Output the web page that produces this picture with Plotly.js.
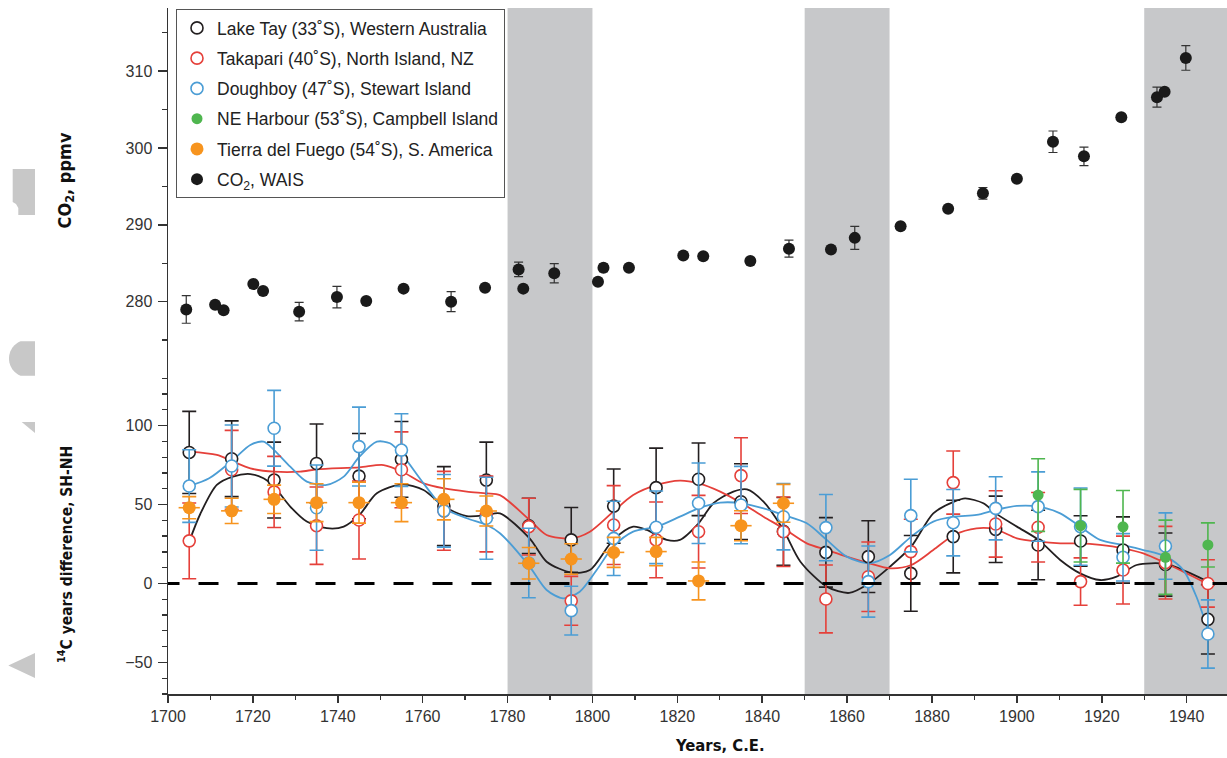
<!DOCTYPE html>
<html>
<head>
<meta charset="utf-8">
<script src="https://cdn.plot.ly/plotly-3.0.1.min.js"></script>
<style>html,body{margin:0;padding:0;background:#fff;}#chart{width:1227px;height:758px;}</style>
</head>
<body>
<div id="chart"></div>
<script>
// ---------- data ----------
const c14Years = [1705,1715,1725,1735,1745,1755,1765,1775,1785,1795,1805,1815,1825,1835,1845,1855,1865,1875,1885,1895,1905,1915,1925,1935,1945];

const lakeTay    = [83,79,65.5,76,68,78.6,49,65.5,36.5,27.6,49,60.7,66,51.8,33,19.7,17,6.4,29.7,34.3,24.4,26.9,21.2,12,-22.7];
const lakeTayErr = [26,24,24,25,27,24,25,24,17.5,20.5,23.5,25,23,24,21.5,22,22.7,24,23,21,22,16,21,20,22];

const takapari    = [27,72,58,36.6,40.2,72,46,44,36,-11,37,27.6,32.8,68.3,32.8,-9.8,4.3,20.2,63.9,37.7,35.6,1.2,8.5,13.2,0];
const takapariErr = [24,25,22.5,24.5,24.7,24,25,24,18,15.5,25,24,23,24,22,21.5,22,20.5,20,21,22,15,21.5,23,15];

const doughboy    = [61.7,74.4,98.3,48,86.7,84.5,46,41.3,13,-17.2,28.6,35.6,50.8,49.7,42.3,35.4,1.2,43,38.5,47.6,48.7,36,16.6,23.7,-32];
const doughboyErr = [23,26,24,27,25,23,23,26,22,15.4,23.5,23,25.5,24.5,21,21,22.5,23,21,20,22,24.5,15,21,21.6];

const harbourYears = [1905,1915,1925,1935,1945];
const harbour      = [56,36.6,35.9,16.6,24.4];
const harbourErr   = [23,23,23,23.5,14];

const fuegoYears = [1705,1715,1725,1735,1745,1755,1765,1775,1785,1795,1805,1815,1825,1835,1845];
const fuego      = [48,46,53.3,51.2,51.2,51.2,53.3,45.9,12.8,15.5,19.7,20.2,1.6,36.6,50.8];
const fuegoErr   = [7,8,9,12,13,12,13,9.5,10,9.7,9.5,9,12,9.5,12];
const fuegoXErr  = [2.5,2.5,2.5,2.5,2.5,2.5,2.5,2.5,2.5,2.5,2.5,2.5,2.5,2.5,2.5];

const co2Years  = [1704.3,1711.1,1713.1,1720.1,1722.4,1730.9,1739.8,1746.7,1755.5,1766.7,1774.7,1782.6,1783.7,1791.0,1801.3,1802.6,1808.6,1821.4,1826.1,1837.2,1846.3,1856.2,1861.8,1872.6,1883.8,1892.0,1900.0,1908.5,1915.8,1924.6,1933.0,1934.8,1939.8];
const co2Values = [279.0,279.6,278.9,282.3,281.4,278.7,280.6,280.1,281.7,280.0,281.8,284.2,281.7,283.7,282.6,284.4,284.4,286.0,285.9,285.3,286.9,286.8,288.3,289.8,292.1,294.1,296.0,300.8,298.9,304.0,306.6,307.3,311.7];
const co2Errors = [1.8,0,0,0,0,1.2,1.4,0,0,1.3,0,0.95,0,1.25,0,0.5,0,0,0,0.4,1.1,0,1.5,0,0,0.75,0,1.4,1.2,0,1.3,0,1.6];

// smoothed curves
const lakeTayCurveX = [1705,1707.6,1711.5,1715.3,1719.4,1722.5,1725,1728.8,1732.7,1737.4,1741.4,1745.1,1749.2,1755.2,1760.2,1765.1,1770.4,1775.1,1778.2,1785.2,1789.2,1795.1,1799.4,1804.9,1809.6,1812.8,1817.5,1820.6,1825,1828.5,1833.2,1836.4,1840.3,1845,1849,1855.2,1860.5,1865.2,1870.1,1875.1,1880.3,1885.2,1887.8,1892.1,1895,1900,1905.1,1910.2,1914.9,1919.6,1923.5,1928.2,1935.1,1940,1945];
const lakeTayCurve  = [26.5,44,62.4,67.7,69.3,66.6,61.3,48.7,39.2,35,36,43.4,57.1,62.8,59.2,48.7,42.7,43.4,44.4,28.6,13.8,6.9,8.5,27.6,36,33.9,27.6,27.6,38.1,50.8,58.2,59.6,51.8,33.9,13.8,-2,-6,0.1,10.7,23.3,44.4,51.8,53.9,50.8,44.4,36,27.6,14.9,6.4,2.2,4.3,11.7,12.4,7.5,1.2];

const takapariCurveX = [1705,1711.5,1715.3,1719.4,1725,1731.1,1735.1,1745.1,1750.8,1755.2,1760.2,1765.1,1770.4,1775.1,1778.2,1785.2,1789.2,1795.1,1799.4,1804.9,1809.6,1815.2,1820.6,1825,1830.1,1835.2,1840.3,1845,1850.5,1855.2,1859.9,1865.2,1870.1,1875.1,1880.3,1885.2,1890.5,1895,1900,1905.1,1910.2,1914.9,1919.6,1924.9,1929.8,1935.1,1940,1943.1,1945];
const takapariCurve  = [83.5,81.4,77.2,72.9,70.8,70.8,72.3,73.6,75,70.8,63.4,60.2,58.2,57.1,56,40.2,30.7,28.6,32.8,45.5,56,62.4,65.1,63.4,58.2,50.8,42.3,34.9,25.4,21.2,17,12.8,9.6,11.7,21.2,30.7,34.9,34.3,28.6,26.5,25.4,25.4,24.4,22.3,19.1,12.8,6.4,2.2,-0.3];

const doughboyCurveX = [1705,1709.7,1715.3,1719.4,1722.5,1725,1728.8,1732.7,1737.4,1741.4,1745.1,1749.2,1752.3,1755.2,1760.2,1765.1,1770.4,1775.1,1778.2,1785.2,1789.2,1793.1,1797,1801,1804.9,1809.6,1815.2,1820.6,1825,1830.1,1835.2,1840.3,1845,1850.5,1855.2,1859.9,1865.2,1870.1,1875.1,1880.3,1885.2,1890.5,1895,1900,1905.1,1910.2,1914.9,1919.6,1924.9,1929.8,1935.1,1939.2,1942.3,1945];
const doughboyCurve  = [61.7,66.6,78.2,87.7,89.8,84.5,74,64.5,62.4,67.7,80.3,89.8,88.8,81.4,63.4,47.6,41.3,37,31.8,10.7,-4.1,-9.4,-5.2,8.5,23.3,32.8,36,42.3,47.6,51.2,50.8,47.6,43.4,38.1,27.6,17,12.8,18.1,29.7,39.2,42.3,43.4,46.6,49.1,48.7,44.4,36,27.6,24.4,21.2,17,8.5,-8.4,-29.5];

const bands = [[1780,1800],[1850,1870],[1930,1950]];

// ---------- styling ----------
const BLACK = '#231f20', RED = '#e5403a', BLUE = '#4b9dd5', GREEN = '#4fb64f', ORANGE = '#f7941e', AX = '#333333';

function curve(x, y, color) {
  return {x: x, y: y, type: 'scatter', mode: 'lines', xaxis: 'x', yaxis: 'y',
    line: {color: color, width: 1.8, shape: 'spline', smoothing: 0.8},
    showlegend: false, hoverinfo: 'skip'};
}
function openSeries(name, x, y, err, color, rank) {
  return {name: name, x: x, y: y, type: 'scatter', mode: 'markers', xaxis: 'x', yaxis: 'y',
    legendrank: rank, legendgroup: 'g' + rank,
    marker: {symbol: 'circle', size: 12, color: 'rgba(255,255,255,1)', line: {color: color, width: 1.6}},
    error_y: {type: 'data', array: err, visible: true, color: color, thickness: 1.6, width: 7}};
}

const traces = [
  curve(lakeTayCurveX, lakeTayCurve, BLACK),
  curve(takapariCurveX, takapariCurve, RED),
  curve(doughboyCurveX, doughboyCurve, BLUE),
  openSeries('Lake Tay (33˚S), Western Australia', c14Years, lakeTay, lakeTayErr, BLACK, 1),
  openSeries('Takapari (40˚S), North Island, NZ', c14Years, takapari, takapariErr, RED, 2),
  openSeries('Doughboy (47˚S), Stewart Island', c14Years, doughboy, doughboyErr, BLUE, 3),
  {name: 'NE Harbour (53˚S), Campbell Island', x: harbourYears, y: harbour, type: 'scatter', mode: 'markers',
    xaxis: 'x', yaxis: 'y', legendrank: 4, legendgroup: 'g4',
    marker: {symbol: 'circle', size: 11, color: GREEN},
    error_y: {type: 'data', array: harbourErr, visible: true, color: GREEN, thickness: 1.6, width: 7}},
  {name: 'Tierra del Fuego (54˚S), S. America', x: fuegoYears, y: fuego, type: 'scatter', mode: 'markers',
    xaxis: 'x', yaxis: 'y', legendrank: 5, legendgroup: 'g5',
    marker: {symbol: 'circle', size: 13, color: ORANGE},
    error_y: {type: 'data', array: fuegoErr, visible: true, color: ORANGE, thickness: 1.6, width: 7},
    error_x: {type: 'data', array: fuegoXErr, visible: true, color: ORANGE, thickness: 1.6, width: 0}},
  {name: 'CO<sub>2</sub>, WAIS', x: co2Years, y: co2Values, type: 'scatter', mode: 'markers',
    xaxis: 'x', yaxis: 'y2', legendrank: 6, legendgroup: 'g6',
    marker: {symbol: 'circle', size: 12, color: '#1a1a1a'},
    error_y: {type: 'data', array: co2Errors, visible: true, color: '#333', thickness: 1.2, width: 4.5}}
];

// pixel -> paper helpers for decorations placed outside the plot
const L = 168, T = 8, W = 1059, H = 686;
const pxX = v => (v - L) / W;
const pxY = v => (T + H - v) / H;
function poly(pts) {
  return 'M ' + pts.map(p => pxX(p[0]).toFixed(5) + ',' + pxY(p[1]).toFixed(5)).join(' L ') + ' Z';
}
// left half-disc clipped at x=35
const disc = [];
for (let t = 0; t <= 36; t++) {
  const ang = (112.5 + t * (135 / 36)) * Math.PI / 180;
  disc.push([27.7 + 18.7 * Math.cos(ang), 358.5 - 18.7 * Math.sin(ang)]);
}
disc.push([35, 375.7]); disc.unshift([35, 341.3]);

const grey = '#c8c8c8';
const shapes = bands.map(b => ({type: 'rect', xref: 'x', yref: 'paper', x0: b[0], x1: b[1], y0: 0, y1: 1,
  fillcolor: '#c7c8ca', line: {width: 0}, layer: 'below'}));
shapes.push({type: 'line', xref: 'x', yref: 'y', x0: 1698, x1: 1949.5, y0: 0, y1: 0,
  line: {color: '#000', width: 3, dash: '20px,19px'}, layer: 'above'});
shapes.push({type: 'path', xref: 'paper', yref: 'paper', fillcolor: grey, line: {width: 0},
  path: poly([[12.7,169],[35,169],[35,215],[18.3,215],[18.3,208],[16,204],[12.7,202]])});
shapes.push({type: 'path', xref: 'paper', yref: 'paper', fillcolor: grey, line: {width: 0}, path: poly(disc)});
shapes.push({type: 'path', xref: 'paper', yref: 'paper', fillcolor: grey, line: {width: 0},
  path: poly([[21.7,422],[35,422],[35,433]])});
shapes.push({type: 'path', xref: 'paper', yref: 'paper', fillcolor: grey, line: {width: 0},
  path: poly([[8.3,665.5],[35,653],[35,678]])});

const tickFont = {family: 'Liberation Sans, Arial, sans-serif', size: 16, color: AX};
const narrow = 'Liberation Sans Narrow, DejaVu Sans Condensed, Arial Narrow, sans-serif';
const split = (T + H - 370) / H;

const layout = {
  width: 1227, height: 758,
  margin: {l: L, r: 0, t: T, b: 758 - T - H},
  paper_bgcolor: '#fff', plot_bgcolor: 'rgba(0,0,0,0)',
  showlegend: true,
  legend: {x: pxX(176), y: pxY(9), xanchor: 'left', yanchor: 'top',
    bgcolor: '#fff', bordercolor: '#555', borderwidth: 1,
    font: {family: 'Liberation Sans, Arial, sans-serif', size: 17.5, color: '#222'},
    traceorder: 'grouped', tracegroupgap: 4.5, itemclick: false},
  xaxis: {range: [1700, 1949.5], tick0: 1700, dtick: 20, ticks: 'outside', ticklen: 7, tickwidth: 1.5,
    tickcolor: AX, showline: true, linecolor: AX, linewidth: 1.5, showgrid: false, zeroline: false,
    tickfont: tickFont, anchor: 'y',
    minor: {dtick: 10, tick0: 1700, ticks: 'outside', ticklen: 4, tickwidth: 1.3, tickcolor: AX, showgrid: false}},
  yaxis: {domain: [0, split], range: [-70, (583.5 - 370) / 1.579], tick0: 0, dtick: 50,
    ticks: 'outside', ticklen: 9, tickwidth: 1.5, tickcolor: AX, showline: true, linecolor: AX, linewidth: 1.5,
    showgrid: false, zeroline: false, tickfont: tickFont, anchor: 'x', ticklabelstandoff: 2,
    minor: {dtick: 10, tick0: 0, ticks: 'outside', ticklen: 5, tickwidth: 1.3, tickcolor: AX, showgrid: false}},
  yaxis2: {domain: [split, 1], range: [280 - (370 - 301.7) / 7.69, 280 + (301.7 - 8) / 7.69], tick0: 280, dtick: 10,
    ticks: 'outside', ticklen: 9, tickwidth: 1.5, tickcolor: AX, showline: true, linecolor: AX, linewidth: 1.5,
    showgrid: false, zeroline: false, tickfont: tickFont, anchor: 'x', ticklabelstandoff: 2,
    minor: {dtick: 5, tick0: 280, ticks: 'outside', ticklen: 5, tickwidth: 1.3, tickcolor: AX, showgrid: false}},
  shapes: shapes,
  annotations: [
    {text: 'CO<sub>2</sub>, ppmv', xref: 'paper', yref: 'paper', x: pxX(65), y: pxY(180.5), textangle: -90,
      showarrow: false, xanchor: 'center', yanchor: 'middle',
      font: {family: narrow, size: 18, color: '#111', weight: 'bold'}},
    {text: '<sup>14</sup>C years difference, SH-NH', xref: 'paper', yref: 'paper', x: pxX(65), y: pxY(555), textangle: -90,
      showarrow: false, xanchor: 'center', yanchor: 'middle',
      font: {family: narrow, size: 15.5, color: '#111', weight: 'bold'}},
    {text: 'Years, C.E.', xref: 'paper', yref: 'paper', x: pxX(719.5), y: pxY(746),
      showarrow: false, xanchor: 'center', yanchor: 'middle',
      font: {family: narrow, size: 16.5, color: '#111', weight: 'bold'}}
  ]
};

Plotly.newPlot('chart', traces, layout, {displayModeBar: false, staticPlot: true});
</script>
</body>
</html>
